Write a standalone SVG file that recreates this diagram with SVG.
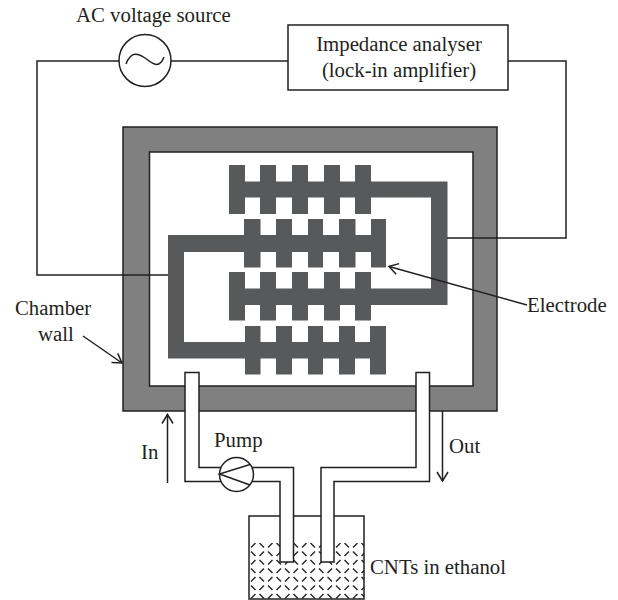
<svg xmlns="http://www.w3.org/2000/svg" width="618" height="600" viewBox="0 0 618 600">
<style>
.t{font-family:"Liberation Serif","Times New Roman",serif;font-size:20.800px;fill:#231f20}
.w{fill:none;stroke:#231f20;stroke-width:1.5}
.p{fill:#fff;stroke:#231f20;stroke-width:1.5}
.e{fill:#58595b}
</style>
<defs>
<pattern id="liq" width="17" height="17" patternUnits="userSpaceOnUse" x="249" y="541">
<path d="M2 6.500L6.500 2M10.500 15L15 10.500M2 10.500L6.500 15M10.500 2L15 6.500" stroke="#2a2a2a" stroke-width="1.500" fill="none"/>
</pattern>
<marker id="arr" markerUnits="userSpaceOnUse" markerWidth="16" markerHeight="16" refX="14" refY="8" orient="auto">
<path d="M5 2.500L14 8L5 13.500" fill="none" stroke="#231f20" stroke-width="1.500"/>
</marker>
</defs>
<g id="chamber">
<path fill="#808080" stroke="#231f20" stroke-width="1.5" fill-rule="evenodd" d="M123 127H497V411H123ZM149.500 152V386H473V152Z"/>
</g>
<g id="electrode">
<path class="e" d="M229 165H245V181.500H260V165H276V181.500H292V165H308V181.500H324V165H340V181.500H355V165H371V181.500H447.500V305H371V320.500H355V305H340V320.500H324V305H308V320.500H292V305H276V320.500H260V305H245V320.500H229V272H245V288.500H260V272H276V288.500H292V272H308V288.500H324V272H340V288.500H355V272H371V288.500H431V197.500H371V214H355V197.500H340V214H324V197.500H308V214H292V197.500H276V214H260V197.500H245V214H229Z"/>
<path class="e" d="M168 235H244V219H260.500V235H276V219H292V235H308V219H323V235H339V219H355.500V235H371V219H386V267.500H371V252H355.500V267.500H339V252H323V267.500H308V252H292V267.500H276V252H260.500V267.500H244V252H184V342H245V326H260.500V342H276V326H292V342H308V326H323V342H339V326H355V342H370V326H386V374.500H370V358.500H355V374.500H339V358.500H323V374.500H308V358.500H292V374.500H276V358.500H260.500V374.500H245V358.500H168Z"/>
</g>
<g id="beaker">
<rect x="249" y="543" width="115" height="56" fill="url(#liq)"/>
<path class="w" d="M249 516V599H364V516H249Z"/>
</g>
<g id="connectors">
<path class="w" d="M119 61H37V275H168"/>
<path class="w" d="M171 61H288"/>
<path class="w" d="M508 61H566V238H447"/>
<path class="w" d="M527 305L389 266.500" marker-end="url(#arr)"/>
<path class="w" d="M83 336L122 363" marker-end="url(#arr)"/>
<path class="w" d="M167.500 483V414.500" marker-end="url(#arr)"/>
<path class="w" d="M442.500 411V481" marker-end="url(#arr)"/>
</g>
<g id="pipes">
<path class="p" d="M185 372.500H199V467.500H293.500V562H280V481.500H185Z"/>
<path class="p" d="M416 372.500H429.500V481.500H334V562H321V467.500H416Z"/>
</g>
<g id="pump">
<circle class="p" cx="236.500" cy="474.500" r="17"/>
<path class="w" d="M250 464.500L219.500 474L250 485"/>
</g>
<g id="ac-source">
<circle class="p" cx="145" cy="60.500" r="26"/>
<path class="w" d="M126 64C131 51 138 53 145 58C152 63 159 70 164 57"/>
</g>
<g id="analyser">
<rect class="p" x="288" y="25" width="220" height="65"/>
<text class="t" x="399" y="51" text-anchor="middle">Impedance analyser</text>
<text class="t" x="399" y="77" text-anchor="middle">(lock-in amplifier)</text>
</g>
<g id="labels">
<text class="t" x="76" y="22">AC voltage source</text>
<text class="t" x="15" y="315">Chamber</text>
<text class="t" x="38" y="341">wall</text>
<text class="t" x="527" y="312">Electrode</text>
<text class="t" x="141" y="459">In</text>
<text class="t" x="214" y="447">Pump</text>
<text class="t" x="449" y="453">Out</text>
<text class="t" x="370" y="574">CNTs in ethanol</text>
</g>
</svg>
